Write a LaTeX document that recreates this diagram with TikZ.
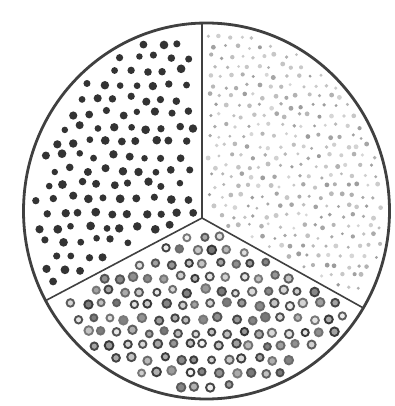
\documentclass[tikz,border=0pt]{standalone}
\begin{document}
\begin{tikzpicture}[x=1pt, y=-1pt,
    rim/.style={black!75, line width=2.8pt},
    wall/.style={black!75, line width=1.6pt},
    darkdot/.style={fill=black!80},
    ringdot/.style={line width=1.9pt}]
  \useasboundingbox (0,0) rectangle (395,406);
  \coordinate (mid) at (206.5,211);
  \coordinate (hub) at (202,218);
  \pgfmathsetseed{1234}
  % left third: solid dark dots
  \foreach \r in {0,...,21} {
    \foreach \c in {0,...,11} {
      \pgfmathsetmacro{\px}{22+\c*16.5+mod(\r,2)*8.25+2.8*rand}
      \pgfmathsetmacro{\py}{28+\r*14.2+2.8*rand}
      \pgfmathtruncatemacro{\ok}{(\px<195) && (\py<210+0.528*(202-\px)) && (((\px-206.5)/174)^2+((\py-211)/179)^2<1) ? 1 : 0}
      \ifnum\ok=1
        \fill[darkdot] (\px,\py) circle (3.8+0.6*rand);
      \fi
    }
  }
  % right third: small faint dots
  \foreach \r in {0,...,29} {
    \foreach \c in {0,...,16} {
      \pgfmathsetmacro{\px}{204+\c*11+mod(\r,2)*5.5+2.5*rand}
      \pgfmathsetmacro{\py}{26+\r*10+2.5*rand}
      \pgfmathtruncatemacro{\ok}{(\px>207) && (\py<213+0.558*(\px-202)) && (((\px-206.5)/177)^2+((\py-211)/182)^2<1) ? 1 : 0}
      \ifnum\ok=1
        \pgfmathtruncatemacro{\g}{28+12*rand}
        \fill[black!\g] (\px,\py) circle (2+0.5*rand);
      \fi
    }
  }
  % bottom third: ringed dots
  \foreach \r in {0,...,12} {
    \foreach \c in {0,...,21} {
      \pgfmathsetmacro{\px}{40+\c*15.6+mod(\r,2)*7.8+2.5*rand}
      \pgfmathsetmacro{\py}{223+\r*13.6+2.5*rand}
      \pgfmathtruncatemacro{\ok}{(\py>225+0.528*(202-\px)) && (\py>225+0.558*(\px-202)) && (((\px-206.5)/174)^2+((\py-211)/179)^2<1) ? 1 : 0}
      \ifnum\ok=1
        \pgfmathtruncatemacro{\g}{66+14*rand}
        \pgfmathtruncatemacro{\f}{30+25*rand}
        \filldraw[ringdot, draw=black!\g, fill=black!\f] (\px,\py) circle (3.9+0.5*rand);
      \fi
    }
  }
  \begin{scope}
    \clip (mid) ellipse [x radius=183, y radius=188];
    \draw[wall] (hub) -- ++(0,-260) (hub) -- ++(-159*1.3,84*1.3) (hub) -- ++(156*1.3,87*1.3);
  \end{scope}
  \draw[rim] (mid) ellipse [x radius=183, y radius=188];
\end{tikzpicture}
\end{document}
